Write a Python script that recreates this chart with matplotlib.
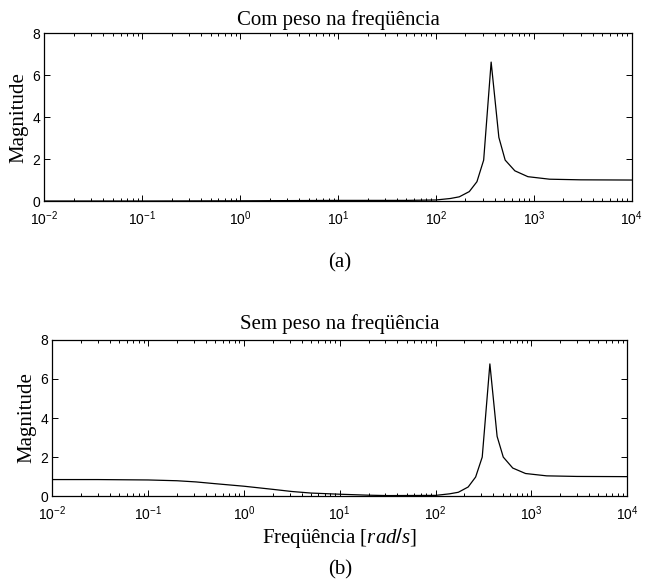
import matplotlib
matplotlib.use("Agg")
import matplotlib.pyplot as plt
import numpy as np
from matplotlib.ticker import NullFormatter, FixedLocator, FuncFormatter

plt.rcParams['font.family'] = ['Liberation Serif', 'DejaVu Serif']
plt.rcParams['mathtext.fontset'] = 'custom'
plt.rcParams['mathtext.rm'] = 'Liberation Sans'
plt.rcParams['mathtext.it'] = 'Liberation Serif:italic'
plt.rcParams['mathtext.bf'] = 'Liberation Sans:bold'
plt.rcParams['axes.unicode_minus'] = False

# frequency response
w_top = [1e-2, 1e-1, 1, 10, 50, 100, 140, 173, 219, 262, 307, 366, 439,
         509, 639, 869, 1445, 3000, 1e4]
mag_top = [0.0, 0.0, 0.01, 0.03, 0.03, 0.05, 0.12, 0.2, 0.45, 0.92, 1.95,
           6.62, 3.03, 1.95, 1.44, 1.16, 1.04, 1.01, 1.0]

w_bot = [1e-2, 0.03, 0.1, 0.2, 0.316, 0.5, 1, 2, 3.16, 5, 10, 20, 31.6, 100,
         140, 173, 219, 262, 307, 369, 439, 509, 639, 869, 1445, 3000, 1e4]
mag_bot = [0.85, 0.85, 0.83, 0.79, 0.73, 0.64, 0.51, 0.35, 0.24, 0.16, 0.1,
           0.05, 0.03, 0.04, 0.12, 0.2, 0.47, 0.98, 2.0, 6.77, 3.06, 2.0,
           1.44, 1.16, 1.04, 1.01, 1.0]

titles = ['Com peso na freqüência', 'Sem peso na freqüência']
captions = ['(a)', '(b)']
y_ticks = [0, 2, 4, 6, 8]
x_decades = [-2, -1, 0, 1, 2, 3, 4]

fig = plt.figure(figsize=(6.52, 5.81), dpi=100)
ax1 = fig.add_axes([0.068, 0.654, 0.901, 0.289])
ax2 = fig.add_axes([0.080, 0.146, 0.882, 0.269])

major_x = [10.0 ** d for d in x_decades]
minor_x = [m * 10.0 ** d for d in x_decades[:-1] for m in range(2, 10)]


def pow10(v, pos):
    return r'$\mathrm{10^{%d}}$' % int(round(np.log10(v)))


def style(ax):
    ax.set_xscale('log')
    ax.set_xlim(1e-2, 1e4)
    ax.set_ylim(0, 8)
    ax.yaxis.set_major_locator(FixedLocator(y_ticks))
    ax.xaxis.set_major_locator(FixedLocator(major_x))
    ax.xaxis.set_major_formatter(FuncFormatter(pow10))
    ax.xaxis.set_minor_locator(FixedLocator(minor_x))
    ax.xaxis.set_minor_formatter(NullFormatter())
    ax.tick_params(which='both', direction='in', top=True, right=True,
                   labelsize=10, width=0.7)
    ax.tick_params(which='major', length=4)
    ax.tick_params(axis='x', which='major', pad=6)
    ax.tick_params(axis='y', which='major', pad=3)
    ax.tick_params(which='minor', length=2.2)
    for lab in ax.get_yticklabels():
        lab.set_family('Liberation Sans')
    for s in ax.spines.values():
        s.set_linewidth(0.9)
    ax.set_ylabel('Magnitude', fontsize=15, labelpad=3)


ax1.plot(w_top, mag_top, color='black', lw=0.9)
style(ax1)
ax1.set_title(titles[0], fontsize=15, pad=6)

ax2.plot(w_bot, mag_bot, color='black', lw=0.9)
style(ax2)
ax2.set_title(titles[1], fontsize=15, pad=8)
ax2.set_xlabel('Freqüência [$rad/s$]', fontsize=15, labelpad=2)

fig.text(0.521, 1 - 263 / 581, captions[0], ha='center', va='center', fontsize=15)
fig.text(0.521, 1 - 570 / 581, captions[1], ha='center', va='center', fontsize=15)

fig.savefig('out.png', dpi=100)
